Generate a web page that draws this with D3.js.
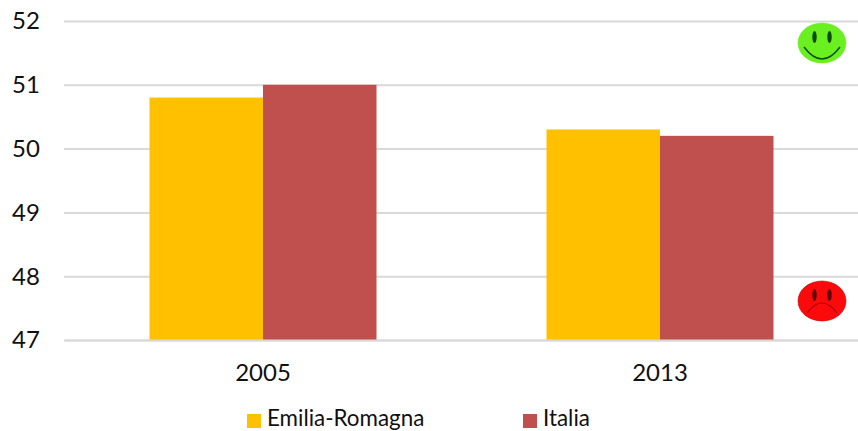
<!DOCTYPE html>
<html><head><meta charset="utf-8">
<script src="https://cdn.jsdelivr.net/npm/d3@7"></script>
<style>html,body{margin:0;padding:0;background:#fff}svg{display:block}text{font-family:Lato,"Open Sans",sans-serif;fill:#111}</style>
</head><body><svg id="c" width="858" height="431"></svg>
<script>
const categories=["2005","2013"];
const seriesNames=["Emilia-Romagna","Italia"];
const emiliaRomagna=[50.8,50.3];
const italia=[51,50.2];
const seriesColors=["#ffc000","#c0504d"];
const yTicks=[47,48,49,50,51,52];

const svg=d3.select("#c");
const y=d3.scaleLinear().domain([47,52]).range([340,21]);
const x=d3.scaleBand().domain(categories).range([64.5,858.5]);
const inner=d3.scaleBand().domain(seriesNames).range([0,227]);
const offset=(x.bandwidth()-227)/2;

const gy=svg.append("g").attr("transform","translate(64,0)")
 .call(d3.axisLeft(y).tickValues(yTicks).tickFormat(d3.format("d")).tickSize(-794).tickPadding(14));
gy.select(".domain").remove();
gy.selectAll("line").attr("stroke","#d9d9d9").attr("stroke-width",2);
gy.selectAll("text").attr("font-size",24).attr("text-anchor","start").attr("x",-52).attr("dy","0.33em");

[emiliaRomagna,italia].forEach((vals,s)=>{
 svg.append("g").selectAll("rect").data(vals).join("rect")
  .attr("x",(d,i)=>x(categories[i])+offset+inner(seriesNames[s]))
  .attr("width",inner.bandwidth())
  .attr("y",d=>y(d))
  .attr("height",d=>y(47)-y(d))
  .attr("fill",seriesColors[s]);
});

const gx=svg.append("g").attr("transform","translate(0,340)")
 .call(d3.axisBottom(x).tickSize(0).tickPadding(24));
gx.select(".domain").attr("stroke","#d9d9d9").attr("stroke-width",2);
gx.selectAll("text").attr("font-size",24).attr("dy","0.71em");

// legend
const legendX=[247,523], legendTextX=[267,543];
seriesNames.forEach((n,i)=>{
 svg.append("rect").attr("x",legendX[i]).attr("y",414).attr("width",14).attr("height",14).attr("fill",seriesColors[i]);
 svg.append("text").attr("x",legendTextX[i]).attr("y",426).attr("font-size",22.4).text(n);
});

// smileys
function face(cx,cy,fill,edge,happy){
 const g=svg.append("g").attr("transform",`translate(${cx},${cy})`);
 g.append("ellipse").attr("rx",24).attr("ry",20).attr("fill",fill).attr("stroke",edge).attr("stroke-width",.6);
 [-7.5,7.5].forEach(dx=>g.append("ellipse").attr("cx",dx).attr("cy",-6).attr("rx",2.2).attr("ry",6).attr("fill",happy?"#0c4a00":"#5a0000"));
 g.append("path").attr("fill","none").attr("stroke-width",happy?1.4:1.2).attr("stroke",happy?"#0c4a00":"#a80000")
  .attr("d",happy?"M-18,4 Q0,28 18,4":"M-15,12 Q0,-8 15,12");
}
face(822,43,"#6aef20","#6aef20",true);
face(822,301,"#fa0a0a","#cc0000",false);
</script></body></html>
